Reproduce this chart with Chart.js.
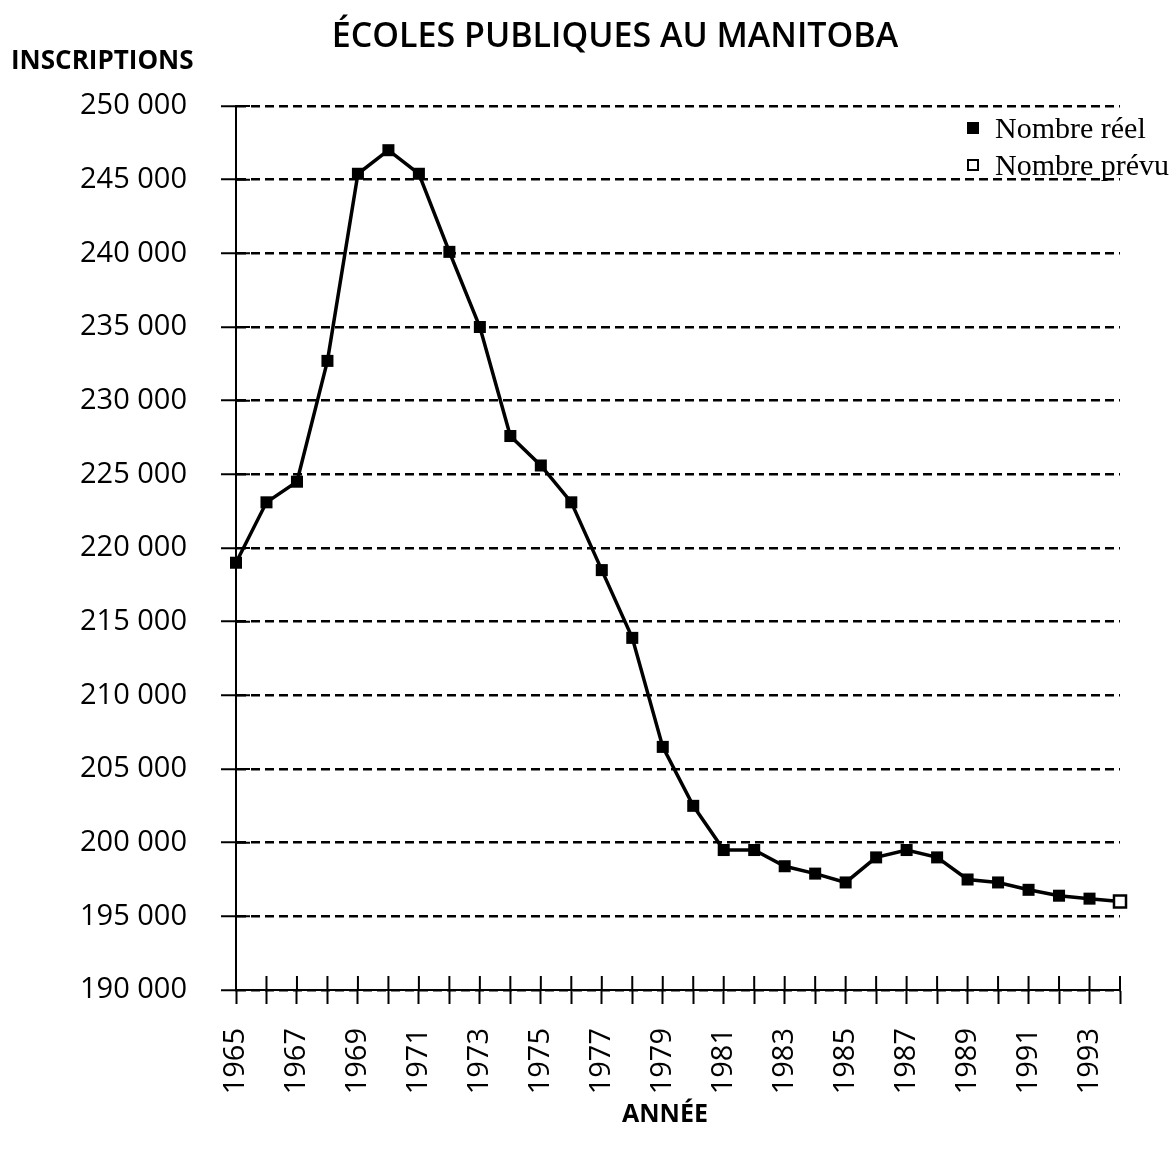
<!DOCTYPE html>
<html lang="fr">
<head>
<meta charset="utf-8">
<title>Écoles publiques au Manitoba</title>
<script src="https://cdn.jsdelivr.net/npm/chart.js@4.4.1/dist/chart.umd.min.js"></script>
<style>
    body { margin: 0; background: #fff; }
    #wrap { position: relative; width: 1173px; height: 1149px; }
    .txt { position: absolute; color: #000; font-family: "Open Sans", sans-serif; white-space: nowrap; line-height: 1; }
    #title { left: 0; width: 1230px; top: 17px; text-align: center; font-size: 34px; font-weight: 600; }
    #yTitle { left: 11px; top: 46px; font-size: 26px; font-weight: 700; }
    #xTitle { left: 0; width: 1330px; top: 1100px; text-align: center; font-size: 25px; font-weight: 700; }
    #legend { position: absolute; left: 967px; top: 109px; font-family: "Liberation Serif", serif; font-size: 30px; }
    #legend .item { height: 37px; display: flex; align-items: center; }
    #legend .box { display: inline-block; width: 12px; height: 12px; margin-right: 16px; box-sizing: border-box; }
    #legend .filled { background: #000; }
    #legend .hollow { border: 2.5px solid #000; background: #fff; }
</style>
</head>
<body>
<div id="wrap">
    <canvas id="enrolmentChart"></canvas>
    <div class="txt" id="title">ÉCOLES PUBLIQUES AU MANITOBA</div>
    <div class="txt" id="yTitle">INSCRIPTIONS</div>
    <div class="txt" id="xTitle">ANNÉE</div>
    <div id="legend">
        <div class="item"><span class="box filled"></span>Nombre réel</div>
        <div class="item"><span class="box hollow"></span>Nombre prévu</div>
    </div>
</div>
<script>
// Years on the x axis (every year gets a tick, odd years get a label)
const years = [1965, 1966, 1967, 1968, 1969, 1970, 1971, 1972, 1973, 1974,
               1975, 1976, 1977, 1978, 1979, 1980, 1981, 1982, 1983, 1984,
               1985, 1986, 1987, 1988, 1989, 1990, 1991, 1992, 1993, 1994];
const labelledYears = [1965, 1967, 1969, 1971, 1973, 1975, 1977, 1979,
                       1981, 1983, 1985, 1987, 1989, 1991, 1993];

// Enrolment, actual numbers (1965-1993)
const actualEnrolment = [219000, 223100, 224500, 232700, 245400, 247000, 245400, 240100, 235000, 227600,
                         225600, 223100, 218500, 213900, 206500, 202500, 199500, 199500, 198400, 197900,
                         197300, 199000, 199500, 199000, 197500, 197300, 196800, 196400, 196200, null];

// Projected number for 1994 (joined to the last actual year)
const projectedEnrolment = [null, null, null, null, null, null, null, null, null, null,
                            null, null, null, null, null, null, null, null, null, null,
                            null, null, null, null, null, null, null, null, 196200, 196000];

// y axis range
const yMin = 190000;
const yMax = 250000;
const yStep = 5000;

function formatThousands(value) {
    return String(value).replace(/\B(?=(\d{3})+(?!\d))/g, ' ');
}

// small tick marks that cross the axes (inner half)
const crossTicks = {
    id: 'crossTicks',
    beforeDatasetsDraw(chart) {
        const { ctx, chartArea, scales } = chart;
        ctx.save();
        ctx.strokeStyle = '#000';
        ctx.lineWidth = 2;
        ctx.setLineDash([]);
        ctx.beginPath();
        scales.x.ticks.forEach((t, i) => {
            const px = scales.x.getPixelForTick(i);
            ctx.moveTo(px, chartArea.bottom);
            ctx.lineTo(px, chartArea.bottom - 14);
        });
        scales.y.ticks.forEach((t, i) => {
            const py = scales.y.getPixelForTick(i);
            ctx.moveTo(chartArea.left, py);
            ctx.lineTo(chartArea.left + 14, py);
        });
        ctx.stroke();
        ctx.restore();
    }
};

document.addEventListener('DOMContentLoaded', function() {
    const enrolmentCtx = document.getElementById('enrolmentChart');
    if (enrolmentCtx) {
        const enrolmentChart = new Chart(enrolmentCtx, {
            type: 'line',
            data: {
                labels: years,
                datasets: [{
                    label: 'Nombre réel',
                    data: actualEnrolment,
                    borderColor: '#000',
                    backgroundColor: '#000',
                    borderWidth: 3.5,
                    tension: 0,
                    pointStyle: 'rect',
                    pointRadius: 8.5,
                    pointBorderWidth: 0,
                    pointBackgroundColor: '#000',
                    clip: false,
                    order: 1
                }, {
                    label: 'Nombre prévu',
                    data: projectedEnrolment,
                    borderColor: '#000',
                    backgroundColor: '#fff',
                    borderWidth: 3.5,
                    tension: 0,
                    pointStyle: 'rect',
                    pointRadius: ctx => ctx.dataIndex === years.length - 1 ? 8.5 : 0,
                    pointBorderWidth: 2.5,
                    pointBorderColor: '#000',
                    pointBackgroundColor: '#fff',
                    clip: false,
                    order: 2
                }]
            },
            plugins: [crossTicks],
            options: {
                responsive: true,
                maintainAspectRatio: false,
                animation: false,
                layout: {
                    padding: { top: 106, right: 53, bottom: 0, left: 0 }
                },
                plugins: {
                    legend: { display: false },
                    title: { display: false },
                    tooltip: { enabled: false }
                },
                scales: {
                    x: {
                        type: 'category',
                        offset: false,
                        afterFit: function(scale) {
                            scale.height = 159;
                            // rotated labels need no side room here
                            scale.paddingLeft = 0;
                            scale.paddingRight = 0;
                        },
                        grid: {
                            drawOnChartArea: false,
                            drawTicks: true,
                            tickLength: 14,
                            tickColor: '#000',
                            tickWidth: 2
                        },
                        border: { display: true, color: '#000', width: 2 },
                        ticks: {
                            autoSkip: false,
                            minRotation: 90,
                            maxRotation: 90,
                            padding: 24,
                            color: '#000',
                            font: { family: 'Open Sans', size: 29 },
                            callback: function(value) {
                                const year = years[value];
                                return labelledYears.includes(year) ? String(year) : '';
                            }
                        }
                    },
                    y: {
                        type: 'linear',
                        min: yMin,
                        max: yMax,
                        afterFit: function(scale) { scale.width = 236; },
                        grid: {
                            color: '#000',
                            lineWidth: 2.5,
                            drawTicks: true,
                            tickLength: 15,
                            tickColor: '#000',
                            tickWidth: 2
                        },
                        border: { display: true, color: '#000', width: 2, dash: [9, 5] },
                        ticks: {
                            stepSize: yStep,
                            padding: 34,
                            color: '#000',
                            font: { family: 'Open Sans', size: 29 },
                            callback: function(value) {
                                return formatThousands(value);
                            }
                        }
                    }
                }
            }
        });
    }
});
</script>
</body>
</html>
